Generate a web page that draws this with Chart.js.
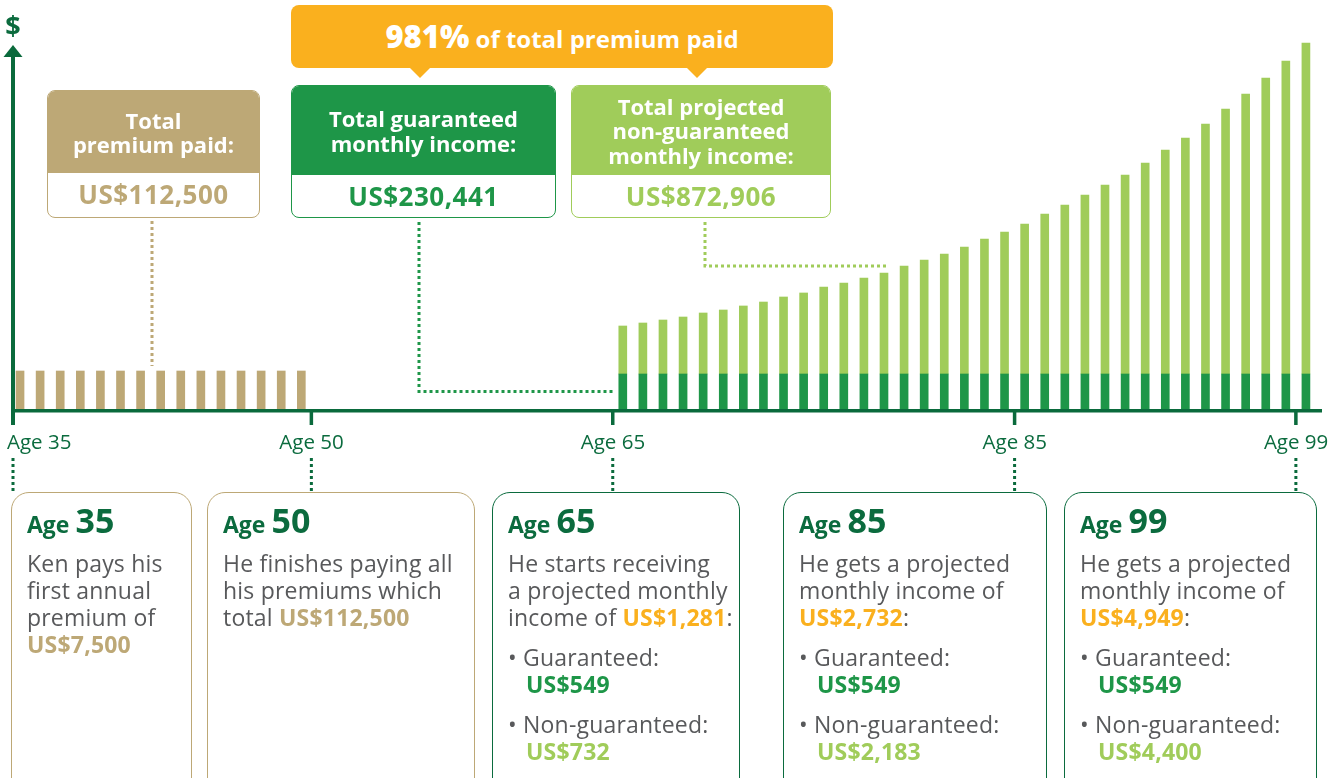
<!DOCTYPE html>
<html>
<head>
<meta charset="utf-8">
<script src="https://cdn.jsdelivr.net/npm/chart.js@4.4.1/dist/chart.umd.min.js"></script>
<style>
  html, body { margin:0; padding:0; background:#fff; width:1341px; height:778px; overflow:hidden; font-family:"Open Sans","Noto Sans",sans-serif; }
  #wrap { position:relative; width:1341px; height:778px; }
  #c { position:absolute; left:0; top:0; }
  .abs { position:absolute; }
  .banner { left:291px; top:5px; width:542px; height:63px; background:#FAB01E; border-radius:8px; color:#fff; font-weight:700; text-align:center; line-height:63px; font-size:24px; }
  .banner b { font-size:31px; }
  .tri { width:0; height:0; border-left:10px solid transparent; border-right:10px solid transparent; border-top:10px solid #FAB01E; top:68px; }
  .tbox { border-radius:8px; overflow:hidden; box-sizing:border-box; background:#fff; }
  .tbox .hd { color:#fff; font-weight:700; font-size:22px; line-height:24.5px; display:flex; align-items:center; justify-content:center; text-align:center; }
  .tbox .val { font-weight:700; font-size:26px; letter-spacing:0.5px; text-align:center; }
  .bbox { top:492px; height:330px; border-radius:18px; box-sizing:border-box; background:#fff; padding:7px 0 0 15px; color:#58595B; font-size:23px; letter-spacing:0.2px; line-height:27px; }
  .bbox .ah { color:#0B6B3E; font-weight:700; font-size:23px; line-height:40px; margin-bottom:6px; letter-spacing:0; }
  .bbox .ah span { font-size:34px; }
  .bbox p { margin:0; }
  .bbox .gap { height:13px; }
  .tan { color:#BDA876; font-weight:700; }
  .org { color:#FAB01E; font-weight:700; }
  .grn { color:#1E9648; font-weight:700; }
  .lgr { color:#A0CC5A; font-weight:700; }
  .ind { padding-left:18px; }
  .tick { color:#0B6B3E; font-size:20.5px; top:429px; line-height:24px; white-space:nowrap; }
  .dollar { color:#0B6B3E; font-weight:700; font-size:27px; left:0; width:26px; text-align:center; top:8px; line-height:34px; }
</style>
</head>
<body>
<div id="wrap">
  <canvas id="c" width="1341" height="778"></canvas>

  <div class="abs dollar">$</div>

  <div class="abs banner"><b>981%</b> of total premium paid</div>
  <div class="abs tri" style="left:410px;"></div>
  <div class="abs tri" style="left:687px;"></div>

  <div class="abs tbox" style="left:47px; top:90px; width:213px; height:128px; border:1.5px solid #BDA876;">
    <div class="hd" style="background:#BDA876; height:82px;">Total<br>premium paid:</div>
    <div class="val" style="color:#BDA876; line-height:43px;">US$112,500</div>
  </div>
  <div class="abs tbox" style="left:291px; top:85px; width:265px; height:133px; border:1.5px solid #1E9648;">
    <div class="hd" style="background:#1E9648; height:89px;">Total guaranteed<br>monthly income:</div>
    <div class="val" style="color:#1E9648; line-height:42px;">US$230,441</div>
  </div>
  <div class="abs tbox" style="left:571px; top:85px; width:260px; height:133px; border:1.5px solid #A0CC5A;">
    <div class="hd" style="background:#A0CC5A; height:89px;">Total projected<br>non-guaranteed<br>monthly income:</div>
    <div class="val" style="color:#A0CC5A; line-height:42px;">US$872,906</div>
  </div>

  <div class="abs bbox" style="left:11px; width:181px; border:1.5px solid #BDA876;">
    <div class="ah">Age <span>35</span></div>
    <p>Ken pays his<br>first annual<br>premium of<br><span class="tan">US$7,500</span></p>
  </div>
  <div class="abs bbox" style="left:207px; width:268px; border:1.5px solid #BDA876;">
    <div class="ah">Age <span>50</span></div>
    <p>He finishes paying all<br>his premiums which<br>total <span class="tan">US$112,500</span></p>
  </div>
  <div class="abs bbox" style="left:492px; width:248px; border:1.5px solid #0B6B3E;">
    <div class="ah">Age <span>65</span></div>
    <p>He starts receiving<br>a projected monthly<br>income of <span class="org">US$1,281</span>:</p>
    <div class="gap"></div>
    <p>&bull; Guaranteed:<br><span class="grn ind">US$549</span></p>
    <div class="gap"></div>
    <p>&bull; Non-guaranteed:<br><span class="lgr ind">US$732</span></p>
  </div>
  <div class="abs bbox" style="left:783px; width:264px; border:1.5px solid #0B6B3E;">
    <div class="ah">Age <span>85</span></div>
    <p>He gets a projected<br>monthly income of<br><span class="org">US$2,732</span>:</p>
    <div class="gap"></div>
    <p>&bull; Guaranteed:<br><span class="grn ind">US$549</span></p>
    <div class="gap"></div>
    <p>&bull; Non-guaranteed:<br><span class="lgr ind">US$2,183</span></p>
  </div>
  <div class="abs bbox" style="left:1064px; width:253px; border:1.5px solid #0B6B3E;">
    <div class="ah">Age <span>99</span></div>
    <p>He gets a projected<br>monthly income of<br><span class="org">US$4,949</span>:</p>
    <div class="gap"></div>
    <p>&bull; Guaranteed:<br><span class="grn ind">US$549</span></p>
    <div class="gap"></div>
    <p>&bull; Non-guaranteed:<br><span class="lgr ind">US$4,400</span></p>
  </div>
</div>

<script>
// ---- data ----
const premiumAges = [35,36,37,38,39,40,41,42,43,44,45,46,47,48,49];
const annualPremium = [7500,7500,7500,7500,7500,7500,7500,7500,7500,7500,7500,7500,7500,7500,7500];
const incomeAges = [65,66,67,68,69,70,71,72,73,74,75,76,77,78,79,80,81,82,83,84,85,86,87,88,89,90,91,92,93,94,95,96,97,98,99];
const guaranteedIncome = [549,549,549,549,549,549,549,549,549,549,549,549,549,549,549,549,549,549,549,549,549,549,549,549,549,549,549,549,549,549,549,549,549,549,549];
const nonGuaranteedIncome = [753,800,847,894,957,1004,1067,1129,1208,1271,1365,1427,1506,1584,1694,1788,1882,1992,2118,2227,2353,2510,2651,2808,2965,3122,3310,3514,3702,3922,4157,4392,4643,4910,5192];
const tickAges = [35,50,65,85,99];
const tickLabels = ["Age 35","Age 50","Age 65","Age 85","Age 99"];

const AXIS = '#0A6A3C', TAN = '#BDA876', GRN = '#1E9648', LGR = '#A0CC5A';

function pts(ages, vals){ return ages.map((a,i)=>({x:a+0.5, y:vals[i]})); }

const deco = {
  id:'deco',
  afterDraw(chart){
    const ctx = chart.ctx, a = chart.chartArea, x = chart.scales.x;
    const yIncome = chart.scales.y;
    ctx.save();
    // axes
    ctx.fillStyle = AXIS;
    ctx.fillRect(a.left-2, 56, 4, 425-56);           // y axis shaft
    ctx.beginPath(); ctx.moveTo(a.left, 45); ctx.lineTo(a.left-9.5, 57); ctx.lineTo(a.left+9.5, 57); ctx.closePath(); ctx.fill();
    ctx.fillRect(a.left-2, a.bottom, a.right-a.left+2, 3.5); // x axis
    tickAges.forEach((t,i)=>{ if(i>0){ const px = x.getPixelForValue(t); ctx.fillRect(px-1.75, a.bottom, 3.5, 16); } });
    // dotted connectors
    function dots(color, path){
      ctx.strokeStyle = color; ctx.lineWidth = 3; ctx.setLineDash([3,3]);
      ctx.beginPath(); ctx.moveTo(path[0][0], path[0][1]);
      for(let k=1;k<path.length;k++) ctx.lineTo(path[k][0], path[k][1]);
      ctx.stroke();
    }
    dots(TAN, [[152,221],[152,366]]);
    const gY = yIncome.getPixelForValue(guaranteedIncome[0]/2);
    dots(GRN, [[419,222],[419,gY],[x.getPixelForValue(incomeAges[0]+0.5)-10,gY]]);
    dots(LGR, [[705,222],[705,266],[887,266]]);
    tickAges.forEach((t,i)=>{
      const px = i===0 ? a.left : x.getPixelForValue(t);
      dots(AXIS, [[px,458],[px,491]]);
    });
    ctx.restore();
  }
};

const chart = new Chart(document.getElementById('c'), {
  type:'bar',
  data:{
    datasets:[
      {label:'Annual premium', data:pts(premiumAges, annualPremium), backgroundColor:TAN, yAxisID:'y2', stack:'p', grouped:false, barThickness:8},
      {label:'Guaranteed monthly income', data:pts(incomeAges, guaranteedIncome), backgroundColor:GRN, yAxisID:'y', stack:'i', grouped:false, barThickness:8},
      {label:'Non-guaranteed monthly income', data:pts(incomeAges, nonGuaranteedIncome), backgroundColor:LGR, yAxisID:'y', stack:'i', grouped:false, barThickness:8}
    ]
  },
  options:{
    responsive:false, animation:false, devicePixelRatio:1,
    layout:{padding:{left:13, right:19, top:40, bottom:369}},
    plugins:{legend:{display:false}, tooltip:{enabled:false}},
    scales:{
      x:{type:'linear', min:35.15, max:100.3, offset:false, display:false},
      y:{type:'linear', min:0, max:5788, stacked:true, display:false},
      y2:{type:'linear', min:0, max:72829, display:false}
    }
  },
  plugins:[deco]
});

// tick labels as text, positioned through the x scale
const wrap = document.getElementById('wrap');
tickAges.forEach((t,i)=>{
  const d = document.createElement('div');
  d.className = 'abs tick';
  d.textContent = tickLabels[i];
  wrap.appendChild(d);
  const w = d.offsetWidth;
  let px = chart.scales.x.getPixelForValue(t);
  let left = px - w/2;
  if(i===0) left = chart.chartArea.left - 6;
  if(left + w > 1328) left = 1328 - w;
  d.style.left = left + 'px';
});
</script>
</body>
</html>
